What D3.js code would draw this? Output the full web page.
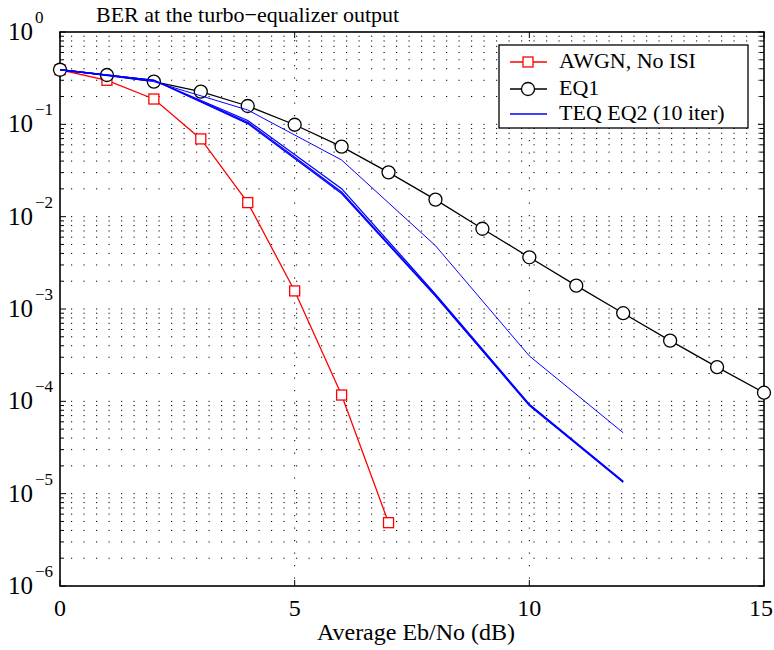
<!DOCTYPE html>
<html><head><meta charset="utf-8">
<script src="https://cdn.jsdelivr.net/npm/d3@7"></script>
<style>body{margin:0;background:#fff}svg{display:block}text{font-family:"Liberation Serif","Times New Roman",serif;fill:#000}</style>
</head><body><svg id="c" width="774" height="650"></svg>
<script>
// ---- data ----
const awgnX = [0,1,2,3,4,5,6,7];
const awgnBER = [0.39,0.30,0.188,0.0695,0.0142,0.00157,1.17e-4,4.85e-6];
const eq1X = [0,1,2,3,4,5,6,7,8,9,10,11,12,13,14,15];
const eq1BER = [0.39,0.342,0.29,0.226,0.158,0.099,0.0573,0.0302,0.0153,0.0074,0.00363,0.00179,9.0e-4,4.54e-4,2.35e-4,1.24e-4];
const teqX = [0,2,4,6,8,10,12];
const teqIter1 = [0.39,0.29,0.143,0.0411,0.00485,3.1e-4,4.57e-5];
const teqIter2 = [0.39,0.30,0.110,0.0201,1.45e-3,9.3e-5,1.36e-5];
const teqIter3 = [0.39,0.30,0.105,0.0185,1.40e-3,9.1e-5,1.34e-5];
const teqIter10 = [0.39,0.30,0.102,0.0178,1.38e-3,9.0e-5,1.33e-5];
const xTicks = [0,5,10,15];
const yDecades = [0,-1,-2,-3,-4,-5,-6];
const legendLabels = ["AWGN, No ISI","EQ1","TEQ EQ2 (10 iter)"];
const titleText = "BER at the turbo\u2212equalizer output";
const xLabelText = "Average Eb/No (dB)";

// ---- layout ----
const W=774,L=60,R=764,T=32,B=586;
const svg=d3.select("#c");
const x=d3.scaleLinear().domain([0,15]).range([L,R]);
const y=d3.scaleLog().domain([1e-6,1]).range([B,T]);

const minorVals=[];
for(let d=-6; d<0; d++) for(let k=2;k<=9;k++) minorVals.push(k*Math.pow(10,d));
const decVals=yDecades.map(d=>Math.pow(10,d));

// grid
const g=svg.append("g");
g.selectAll(".hg").data(decVals.concat(minorVals).filter(v=>v<1&&v>1e-6)).enter().append("line")
 .attr("x1",L).attr("x2",R).attr("y1",d=>y(d)).attr("y2",d=>y(d))
 .attr("stroke","#000").attr("stroke-width",1).attr("stroke-dasharray","1.2,11.3").attr("stroke-dashoffset",-11);
g.selectAll(".vg").data(xTicks.filter(v=>v>0&&v<15)).enter().append("line")
 .attr("x1",d=>x(d)).attr("x2",d=>x(d)).attr("y1",T).attr("y2",B)
 .attr("stroke","#000").attr("stroke-width",1).attr("stroke-dasharray","1.2,11.3").attr("stroke-dashoffset",-8);

// ticks (inward, all sides)
const tk=svg.append("g").attr("stroke","#000").attr("stroke-width",1);
xTicks.forEach(v=>{
  tk.append("line").attr("x1",x(v)).attr("x2",x(v)).attr("y1",B).attr("y2",B-6);
  tk.append("line").attr("x1",x(v)).attr("x2",x(v)).attr("y1",T).attr("y2",T+6);
});
decVals.forEach(v=>{
  tk.append("line").attr("x1",L).attr("x2",L+6).attr("y1",y(v)).attr("y2",y(v));
  tk.append("line").attr("x1",R).attr("x2",R-6).attr("y1",y(v)).attr("y2",y(v));
});
minorVals.forEach(v=>{
  tk.append("line").attr("x1",L).attr("x2",L+4).attr("y1",y(v)).attr("y2",y(v));
  tk.append("line").attr("x1",R).attr("x2",R-4).attr("y1",y(v)).attr("y2",y(v));
});

// box
svg.append("rect").attr("x",L).attr("y",T).attr("width",R-L).attr("height",B-T)
 .attr("fill","none").attr("stroke","#000").attr("stroke-width",1.6);

// tick labels
xTicks.forEach(v=>{
  const t=svg.append("text").attr("x",x(v)).attr("y",616).attr("text-anchor","middle").attr("font-size",24).text(v);
  const w=t.node().getComputedTextLength();
  if(x(v)+w/2>W-1) t.attr("x",W-1-w/2);
});
yDecades.forEach(d=>{
  const yy=y(Math.pow(10,d));
  svg.append("text").attr("x",33).attr("y",yy+8).attr("text-anchor","end").attr("font-size",25).text("10");
  svg.append("text").attr("x",35).attr("y",yy-9).attr("font-size",17).text(d===0?"0":"\u2212"+Math.abs(d));
});

// title & label
svg.append("text").attr("x",96).attr("y",22).attr("font-size",22).text(titleText);
svg.append("text").attr("x",416).attr("y",640).attr("text-anchor","middle").attr("font-size",24).text(xLabelText);

const line=d3.line().x(d=>x(d[0])).y(d=>y(d[1]));
const zip=(a,b)=>a.map((v,i)=>[v,b[i]]);

// AWGN
const aw=zip(awgnX,awgnBER);
svg.append("path").datum(aw).attr("d",line).attr("fill","none").attr("stroke","#ff0000").attr("stroke-width",1.3);
svg.selectAll(".sq").data(aw).enter().append("rect")
 .attr("x",d=>x(d[0])-5).attr("y",d=>y(d[1])-5).attr("width",10).attr("height",10)
 .attr("fill","#fff").attr("stroke","#ff0000").attr("stroke-width",1.3);

// EQ1
const e1=zip(eq1X,eq1BER);
svg.append("path").datum(e1).attr("d",line).attr("fill","none").attr("stroke","#000").attr("stroke-width",1.3);
svg.selectAll(".ci").data(e1).enter().append("circle")
 .attr("cx",d=>x(d[0])).attr("cy",d=>y(d[1])).attr("r",6.5)
 .attr("fill","#fff").attr("stroke","#000").attr("stroke-width",1.3);

// TEQ
[teqIter1,teqIter2,teqIter3,teqIter10].forEach((s,i)=>{
  svg.append("path").datum(zip(teqX,s)).attr("d",line).attr("fill","none")
   .attr("stroke","#0000ff").attr("stroke-width",i===0?1:1.3);
});

// legend
const lg=svg.append("g");
lg.append("rect").attr("x",499).attr("y",45).attr("width",249).attr("height",83)
 .attr("fill","#fff").attr("stroke","#000").attr("stroke-width",1.3);
const rows=[62,89,114];
const cols=["#ff0000","#000","#0000ff"];
rows.forEach((ry,i)=>{
  lg.append("line").attr("x1",510).attr("x2",547).attr("y1",ry).attr("y2",ry).attr("stroke",cols[i]).attr("stroke-width",1.3);
  if(i===0) lg.append("rect").attr("x",523).attr("y",ry-5).attr("width",10).attr("height",10).attr("fill","#fff").attr("stroke",cols[i]).attr("stroke-width",1.3);
  if(i===1) lg.append("circle").attr("cx",528).attr("cy",ry).attr("r",6.5).attr("fill","#fff").attr("stroke",cols[i]).attr("stroke-width",1.3);
  lg.append("text").attr("x",559).attr("y",ry+6).attr("font-size",22).text(legendLabels[i]);
});
</script></body></html>
